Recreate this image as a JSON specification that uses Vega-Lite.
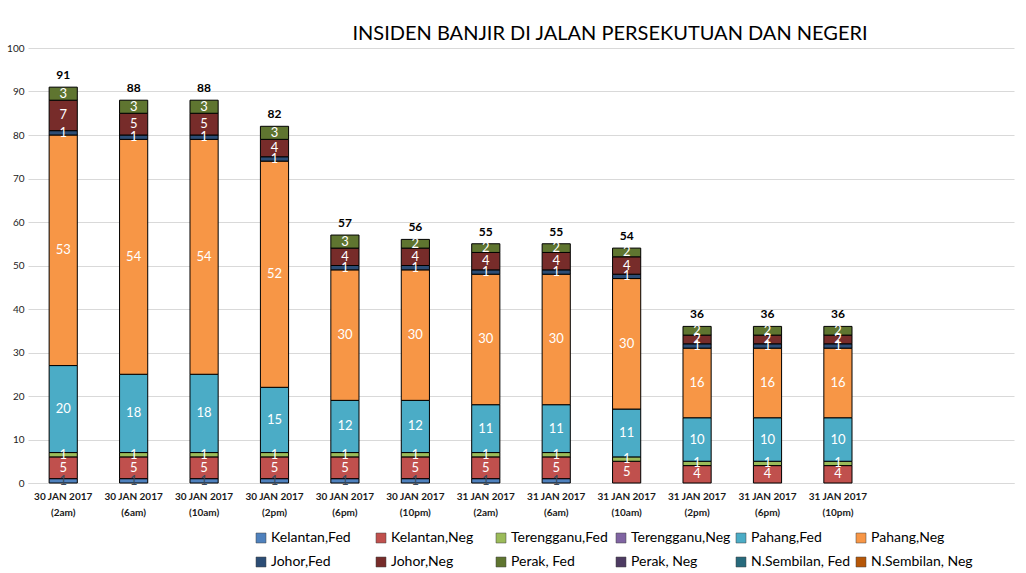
{
  "$schema": "https://vega.github.io/schema/vega-lite/v6.json",
  "autosize": {"type": "none"},
  "width": 986,
  "height": 435,
  "padding": {"left": 28, "top": 48, "right": 12, "bottom": 90},
  "background": "white",
  "title": {
    "text": "INSIDEN BANJIR DI JALAN PERSEKUTUAN DAN NEGERI",
    "font": "Lato",
    "fontSize": 20,
    "fontWeight": "normal",
    "color": "#000000",
    "anchor": "middle",
    "dx": 89,
    "dy": 5,
    "offset": 4
  },
  "config": {
    "view": {"stroke": null},
    "font": "Lato"
  },
  "datasets": {
    "banjir": [
      {"t": "30 JAN 2017|(2am)", "s": "Kelantan,Fed", "v": 1},
      {"t": "30 JAN 2017|(2am)", "s": "Kelantan,Neg", "v": 5},
      {"t": "30 JAN 2017|(2am)", "s": "Terengganu,Fed", "v": 1},
      {"t": "30 JAN 2017|(2am)", "s": "Pahang,Fed", "v": 20},
      {"t": "30 JAN 2017|(2am)", "s": "Pahang,Neg", "v": 53},
      {"t": "30 JAN 2017|(2am)", "s": "Johor,Fed", "v": 1},
      {"t": "30 JAN 2017|(2am)", "s": "Johor,Neg", "v": 7},
      {"t": "30 JAN 2017|(2am)", "s": "Perak, Fed", "v": 3},

      {"t": "30 JAN 2017|(6am)", "s": "Kelantan,Fed", "v": 1},
      {"t": "30 JAN 2017|(6am)", "s": "Kelantan,Neg", "v": 5},
      {"t": "30 JAN 2017|(6am)", "s": "Terengganu,Fed", "v": 1},
      {"t": "30 JAN 2017|(6am)", "s": "Pahang,Fed", "v": 18},
      {"t": "30 JAN 2017|(6am)", "s": "Pahang,Neg", "v": 54},
      {"t": "30 JAN 2017|(6am)", "s": "Johor,Fed", "v": 1},
      {"t": "30 JAN 2017|(6am)", "s": "Johor,Neg", "v": 5},
      {"t": "30 JAN 2017|(6am)", "s": "Perak, Fed", "v": 3},

      {"t": "30 JAN 2017|(10am)", "s": "Kelantan,Fed", "v": 1},
      {"t": "30 JAN 2017|(10am)", "s": "Kelantan,Neg", "v": 5},
      {"t": "30 JAN 2017|(10am)", "s": "Terengganu,Fed", "v": 1},
      {"t": "30 JAN 2017|(10am)", "s": "Pahang,Fed", "v": 18},
      {"t": "30 JAN 2017|(10am)", "s": "Pahang,Neg", "v": 54},
      {"t": "30 JAN 2017|(10am)", "s": "Johor,Fed", "v": 1},
      {"t": "30 JAN 2017|(10am)", "s": "Johor,Neg", "v": 5},
      {"t": "30 JAN 2017|(10am)", "s": "Perak, Fed", "v": 3},

      {"t": "30 JAN 2017|(2pm)", "s": "Kelantan,Fed", "v": 1},
      {"t": "30 JAN 2017|(2pm)", "s": "Kelantan,Neg", "v": 5},
      {"t": "30 JAN 2017|(2pm)", "s": "Terengganu,Fed", "v": 1},
      {"t": "30 JAN 2017|(2pm)", "s": "Pahang,Fed", "v": 15},
      {"t": "30 JAN 2017|(2pm)", "s": "Pahang,Neg", "v": 52},
      {"t": "30 JAN 2017|(2pm)", "s": "Johor,Fed", "v": 1},
      {"t": "30 JAN 2017|(2pm)", "s": "Johor,Neg", "v": 4},
      {"t": "30 JAN 2017|(2pm)", "s": "Perak, Fed", "v": 3},

      {"t": "30 JAN 2017|(6pm)", "s": "Kelantan,Fed", "v": 1},
      {"t": "30 JAN 2017|(6pm)", "s": "Kelantan,Neg", "v": 5},
      {"t": "30 JAN 2017|(6pm)", "s": "Terengganu,Fed", "v": 1},
      {"t": "30 JAN 2017|(6pm)", "s": "Pahang,Fed", "v": 12},
      {"t": "30 JAN 2017|(6pm)", "s": "Pahang,Neg", "v": 30},
      {"t": "30 JAN 2017|(6pm)", "s": "Johor,Fed", "v": 1},
      {"t": "30 JAN 2017|(6pm)", "s": "Johor,Neg", "v": 4},
      {"t": "30 JAN 2017|(6pm)", "s": "Perak, Fed", "v": 3},

      {"t": "30 JAN 2017|(10pm)", "s": "Kelantan,Fed", "v": 1},
      {"t": "30 JAN 2017|(10pm)", "s": "Kelantan,Neg", "v": 5},
      {"t": "30 JAN 2017|(10pm)", "s": "Terengganu,Fed", "v": 1},
      {"t": "30 JAN 2017|(10pm)", "s": "Pahang,Fed", "v": 12},
      {"t": "30 JAN 2017|(10pm)", "s": "Pahang,Neg", "v": 30},
      {"t": "30 JAN 2017|(10pm)", "s": "Johor,Fed", "v": 1},
      {"t": "30 JAN 2017|(10pm)", "s": "Johor,Neg", "v": 4},
      {"t": "30 JAN 2017|(10pm)", "s": "Perak, Fed", "v": 2},

      {"t": "31 JAN 2017|(2am)", "s": "Kelantan,Fed", "v": 1},
      {"t": "31 JAN 2017|(2am)", "s": "Kelantan,Neg", "v": 5},
      {"t": "31 JAN 2017|(2am)", "s": "Terengganu,Fed", "v": 1},
      {"t": "31 JAN 2017|(2am)", "s": "Pahang,Fed", "v": 11},
      {"t": "31 JAN 2017|(2am)", "s": "Pahang,Neg", "v": 30},
      {"t": "31 JAN 2017|(2am)", "s": "Johor,Fed", "v": 1},
      {"t": "31 JAN 2017|(2am)", "s": "Johor,Neg", "v": 4},
      {"t": "31 JAN 2017|(2am)", "s": "Perak, Fed", "v": 2},

      {"t": "31 JAN 2017|(6am)", "s": "Kelantan,Fed", "v": 1},
      {"t": "31 JAN 2017|(6am)", "s": "Kelantan,Neg", "v": 5},
      {"t": "31 JAN 2017|(6am)", "s": "Terengganu,Fed", "v": 1},
      {"t": "31 JAN 2017|(6am)", "s": "Pahang,Fed", "v": 11},
      {"t": "31 JAN 2017|(6am)", "s": "Pahang,Neg", "v": 30},
      {"t": "31 JAN 2017|(6am)", "s": "Johor,Fed", "v": 1},
      {"t": "31 JAN 2017|(6am)", "s": "Johor,Neg", "v": 4},
      {"t": "31 JAN 2017|(6am)", "s": "Perak, Fed", "v": 2},

      {"t": "31 JAN 2017|(10am)", "s": "Kelantan,Neg", "v": 5},
      {"t": "31 JAN 2017|(10am)", "s": "Terengganu,Fed", "v": 1},
      {"t": "31 JAN 2017|(10am)", "s": "Pahang,Fed", "v": 11},
      {"t": "31 JAN 2017|(10am)", "s": "Pahang,Neg", "v": 30},
      {"t": "31 JAN 2017|(10am)", "s": "Johor,Fed", "v": 1},
      {"t": "31 JAN 2017|(10am)", "s": "Johor,Neg", "v": 4},
      {"t": "31 JAN 2017|(10am)", "s": "Perak, Fed", "v": 2},

      {"t": "31 JAN 2017|(2pm)", "s": "Kelantan,Neg", "v": 4},
      {"t": "31 JAN 2017|(2pm)", "s": "Terengganu,Fed", "v": 1},
      {"t": "31 JAN 2017|(2pm)", "s": "Pahang,Fed", "v": 10},
      {"t": "31 JAN 2017|(2pm)", "s": "Pahang,Neg", "v": 16},
      {"t": "31 JAN 2017|(2pm)", "s": "Johor,Fed", "v": 1},
      {"t": "31 JAN 2017|(2pm)", "s": "Johor,Neg", "v": 2},
      {"t": "31 JAN 2017|(2pm)", "s": "Perak, Fed", "v": 2},

      {"t": "31 JAN 2017|(6pm)", "s": "Kelantan,Neg", "v": 4},
      {"t": "31 JAN 2017|(6pm)", "s": "Terengganu,Fed", "v": 1},
      {"t": "31 JAN 2017|(6pm)", "s": "Pahang,Fed", "v": 10},
      {"t": "31 JAN 2017|(6pm)", "s": "Pahang,Neg", "v": 16},
      {"t": "31 JAN 2017|(6pm)", "s": "Johor,Fed", "v": 1},
      {"t": "31 JAN 2017|(6pm)", "s": "Johor,Neg", "v": 2},
      {"t": "31 JAN 2017|(6pm)", "s": "Perak, Fed", "v": 2},

      {"t": "31 JAN 2017|(10pm)", "s": "Kelantan,Neg", "v": 4},
      {"t": "31 JAN 2017|(10pm)", "s": "Terengganu,Fed", "v": 1},
      {"t": "31 JAN 2017|(10pm)", "s": "Pahang,Fed", "v": 10},
      {"t": "31 JAN 2017|(10pm)", "s": "Pahang,Neg", "v": 16},
      {"t": "31 JAN 2017|(10pm)", "s": "Johor,Fed", "v": 1},
      {"t": "31 JAN 2017|(10pm)", "s": "Johor,Neg", "v": 2},
      {"t": "31 JAN 2017|(10pm)", "s": "Perak, Fed", "v": 2}
    ]
  },
  "data": {"name": "banjir"},
  "transform": [
    {"calculate": "indexof(['Kelantan,Fed','Kelantan,Neg','Terengganu,Fed','Terengganu,Neg','Pahang,Fed','Pahang,Neg','Johor,Fed','Johor,Neg','Perak, Fed','Perak, Neg','N.Sembilan, Fed','N.Sembilan, Neg'], datum.s)", "as": "o"}
  ],
  "encoding": {
    "x": {
      "field": "t",
      "type": "nominal",
      "sort": null,
      "scale": {
        "domain": ["30 JAN 2017|(2am)", "30 JAN 2017|(6am)", "30 JAN 2017|(10am)", "30 JAN 2017|(2pm)", "30 JAN 2017|(6pm)", "30 JAN 2017|(10pm)", "31 JAN 2017|(2am)", "31 JAN 2017|(6am)", "31 JAN 2017|(10am)", "31 JAN 2017|(2pm)", "31 JAN 2017|(6pm)", "31 JAN 2017|(10pm)", "_a", "_b"],
        "paddingInner": 0.6,
        "paddingOuter": 0.3
      },
      "axis": {
        "title": null,
        "labelAngle": 0,
        "labelExpr": "indexof(datum.label, '_') == 0 ? '' : split(datum.label, '|')",
        "labelFont": "Lato",
        "labelFontSize": 10,
        "labelFontWeight": "bold",
        "labelColor": "#1A1A1A",
        "labelLineHeight": 16,
        "labelPadding": 8,
        "ticks": false,
        "domainColor": "#D9D9D9",
        "grid": false
      }
    }
  },
  "layer": [
    {
      "mark": {"type": "bar", "stroke": "#000000", "strokeWidth": 1},
      "encoding": {
        "y": {
          "field": "v",
          "type": "quantitative",
          "stack": "zero",
          "scale": {"domain": [0, 100]},
          "axis": {
            "title": null,
            "values": [0, 10, 20, 30, 40, 50, 60, 70, 80, 90, 100],
            "domain": false,
            "ticks": false,
            "labelFont": "Lato",
            "labelFontSize": 10,
            "labelColor": "#222222",
            "labelPadding": 4,
            "gridColor": "#D9D9D9",
            "gridWidth": 1
          }
        },
        "order": {"field": "o", "type": "quantitative"},
        "color": {
          "field": "s",
          "type": "nominal",
          "scale": {
            "domain": ["Kelantan,Fed", "Kelantan,Neg", "Terengganu,Fed", "Terengganu,Neg", "Pahang,Fed", "Pahang,Neg", "Johor,Fed", "Johor,Neg", "Perak, Fed", "Perak, Neg", "N.Sembilan, Fed", "N.Sembilan, Neg"],
            "range": ["#4F81BD", "#C0504D", "#9BBB59", "#8064A2", "#4BACC6", "#F79646", "#2C4D75", "#772C2A", "#5F7530", "#4D3B62", "#276A7C", "#B65708"]
          },
          "legend": {
            "title": null,
            "orient": "none",
            "legendX": 226,
            "legendY": 483,
            "direction": "horizontal",
            "columns": 6,
            "gridAlign": "all",
            "columnPadding": 1,
            "rowPadding": 10,
            "symbolType": "square",
            "symbolSize": 100,
            "symbolStrokeColor": "#404040",
            "symbolStrokeWidth": 0.5,
            "symbolOffset": 0,
            "labelOffset": 3,
            "labelFont": "Lato",
            "labelFontSize": 14,
            "labelColor": "#000000",
            "labelLimit": 200
          }
        }
      }
    },
    {
      "transform": [
        {"stack": "v", "groupby": ["t"], "sort": [{"field": "o", "order": "ascending"}], "as": ["y0", "y1"]},
        {"calculate": "(datum.y0 + datum.y1) / 2", "as": "ym"}
      ],
      "mark": {"type": "text", "font": "Lato", "fontSize": 13, "baseline": "middle", "align": "center"},
      "encoding": {
        "y": {"field": "ym", "type": "quantitative", "scale": {"domain": [0, 100]}},
        "text": {"field": "v", "type": "quantitative"},
        "color": {
          "condition": {"test": "datum.s == 'Kelantan,Fed'", "value": "#3A4A5C"},
          "value": "#FFFFFF"
        }
      }
    },
    {
      "mark": {"type": "text", "font": "Lato", "fontSize": 12, "fontWeight": "bold", "baseline": "bottom", "dy": -5, "color": "#000000"},
      "encoding": {
        "y": {"aggregate": "sum", "field": "v", "type": "quantitative", "scale": {"domain": [0, 100]}},
        "text": {"aggregate": "sum", "field": "v", "type": "quantitative"}
      }
    }
  ]
}
